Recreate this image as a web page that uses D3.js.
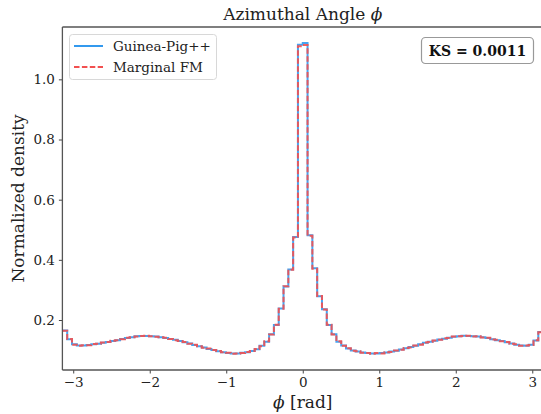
<!DOCTYPE html>
<html lang="en">
<head>
    <meta charset="UTF-8">
    <title>Azimuthal Angle</title>
    <script src="https://d3js.org/d3.v7.min.js"></script>
    <style>
        body { margin: 0; background: #fff; }
        svg { display: block; font-family: "DejaVu Serif", serif; }
        .tick text { font-size: 13.5px; fill: #222; font-family: "DejaVu Serif", serif; }
        .tick line { stroke: #444; }
        .domain { stroke: none; }
    </style>
</head>
<body>
<svg width="541" height="414"></svg>
<script>
    // histogram densities, 100 bins over [-pi, pi]
    const guineaPig = [
        0.165, 0.136, 0.119, 0.115, 0.115, 0.117, 0.119, 0.121, 0.124, 0.127,
        0.130, 0.133, 0.137, 0.140, 0.143, 0.146, 0.147, 0.147, 0.146, 0.145,
        0.143, 0.140, 0.137, 0.134, 0.130, 0.126, 0.122, 0.117, 0.113, 0.109,
        0.104, 0.100, 0.096, 0.093, 0.090, 0.089, 0.089, 0.091, 0.093, 0.097,
        0.103, 0.114, 0.128, 0.153, 0.183, 0.238, 0.311, 0.368, 0.476, 1.115,
        1.121, 0.482, 0.372, 0.279, 0.236, 0.183, 0.153, 0.128, 0.115, 0.105,
        0.099, 0.095, 0.092, 0.090, 0.089, 0.089, 0.090, 0.092, 0.095, 0.098,
        0.102, 0.106, 0.110, 0.114, 0.119, 0.124, 0.128, 0.131, 0.135, 0.138,
        0.141, 0.144, 0.146, 0.148, 0.147, 0.146, 0.145, 0.143, 0.140, 0.136,
        0.133, 0.130, 0.126, 0.122, 0.118, 0.115, 0.114, 0.118, 0.132, 0.160
    ];
    const marginalFM = [
        0.164, 0.137, 0.118, 0.114, 0.116, 0.116, 0.120, 0.121, 0.125, 0.127,
        0.131, 0.133, 0.136, 0.141, 0.143, 0.145, 0.147, 0.148, 0.146, 0.144,
        0.143, 0.141, 0.137, 0.133, 0.130, 0.127, 0.121, 0.118, 0.113, 0.108,
        0.105, 0.100, 0.097, 0.093, 0.091, 0.088, 0.089, 0.090, 0.094, 0.097,
        0.104, 0.113, 0.129, 0.152, 0.184, 0.237, 0.312, 0.367, 0.474, 1.110,
        1.114, 0.480, 0.370, 0.280, 0.235, 0.184, 0.152, 0.129, 0.114, 0.106,
        0.098, 0.096, 0.091, 0.090, 0.088, 0.090, 0.089, 0.093, 0.094, 0.099,
        0.101, 0.107, 0.109, 0.115, 0.118, 0.125, 0.127, 0.132, 0.134, 0.139,
        0.140, 0.145, 0.146, 0.147, 0.148, 0.145, 0.146, 0.142, 0.141, 0.135,
        0.134, 0.129, 0.127, 0.121, 0.119, 0.114, 0.115, 0.117, 0.133, 0.159
    ];
    const xTicks = [-3, -2, -1, 0, 1, 2, 3];
    const yTicks = [0.2, 0.4, 0.6, 0.8, 1.0];
    const seriesNames = ["Guinea-Pig++", "Marginal FM"];
    const ksText = "KS = 0.0011";

    const margin = { top: 27, left: 62.4, bottom: 44 };
    const svgW = 541, svgH = 414;
    const plotRight = 543.1;   // right spine falls just outside the picture
    const plotBottom = svgH - margin.bottom;
    const midX = (margin.left + plotRight) / 2;

    const blue = "#3399ee", red = "#f25050";

    const svg = d3.select("svg");

    const x = d3.scaleLinear().domain([-Math.PI, Math.PI]).range([margin.left, plotRight]);
    const y = d3.scaleLinear().domain([0.0338, 1.174]).range([plotBottom, margin.top]);

    const nBins = guineaPig.length;
    const edges = d3.range(nBins + 1).map(i => -Math.PI + i * 2 * Math.PI / nBins);

    svg.append("clipPath").attr("id", "clip")
        .append("rect")
        .attr("x", margin.left).attr("y", margin.top)
        .attr("width", plotRight - margin.left).attr("height", plotBottom - margin.top);

    const stairs = vals => {
        const pts = vals.map((v, i) => [edges[i], v]);
        pts.push([edges[nBins], vals[nBins - 1]]);
        return d3.line().x(d => x(d[0])).y(d => y(d[1])).curve(d3.curveStepAfter)(pts);
    };

    const plot = svg.append("g").attr("clip-path", "url(#clip)");
    plot.append("path")
        .attr("d", stairs(guineaPig))
        .attr("fill", "none")
        .attr("stroke", blue)
        .attr("stroke-width", 2)
        .attr("opacity", 0.9);
    plot.append("path")
        .attr("d", stairs(marginalFM))
        .attr("fill", "none")
        .attr("stroke", red)
        .attr("stroke-width", 2)
        .attr("stroke-dasharray", "5.5,2.4")
        .attr("opacity", 0.9);

    // axes
    svg.append("g")
        .attr("transform", `translate(0,${plotBottom})`)
        .call(d3.axisBottom(x).tickValues(xTicks).tickSize(3.5).tickPadding(4)
            .tickFormat(d => d < 0 ? "\u2212" + Math.abs(d) : d));
    svg.append("g")
        .attr("transform", `translate(${margin.left},0)`)
        .call(d3.axisLeft(y).tickValues(yTicks).tickSize(3.5).tickPadding(4)
            .tickFormat(d3.format(".1f")));

    // spines
    const spine = "#555";
    svg.append("line").attr("x1", margin.left).attr("x2", margin.left)
        .attr("y1", margin.top).attr("y2", plotBottom).attr("stroke", spine).attr("stroke-width", 1.3);
    svg.append("line").attr("x1", margin.left).attr("x2", plotRight)
        .attr("y1", plotBottom).attr("y2", plotBottom).attr("stroke", spine).attr("stroke-width", 1.3);
    svg.append("line").attr("x1", margin.left).attr("x2", plotRight)
        .attr("y1", margin.top).attr("y2", margin.top).attr("stroke", spine).attr("stroke-width", 1.3);

    // title and labels
    const title = svg.append("text")
        .attr("x", midX).attr("y", 20)
        .attr("text-anchor", "middle")
        .style("font-size", "17px").attr("fill", "#222");
    title.append("tspan").text("Azimuthal Angle ");
    title.append("tspan").style("font-style", "italic").text("\u03D5");

    const xl = svg.append("text")
        .attr("x", midX).attr("y", 408)
        .attr("text-anchor", "middle")
        .style("font-size", "17px").attr("fill", "#222");
    xl.append("tspan").style("font-style", "italic").text("\u03D5");
    xl.append("tspan").text(" [rad]");

    svg.append("text")
        .attr("transform", `translate(24,${(margin.top + plotBottom) / 2}) rotate(-90)`)
        .attr("text-anchor", "middle")
        .style("font-size", "17px").attr("fill", "#222")
        .text("Normalized density");

    // legend
    const legend = svg.append("g");
    legend.append("rect")
        .attr("x", 69.5).attr("y", 34.5).attr("width", 147).attr("height", 45)
        .attr("rx", 3).attr("fill", "#fff").attr("fill-opacity", 0.8)
        .attr("stroke", "#d8d8d8");
    const legStyles = [
        { color: blue, dash: null },
        { color: red, dash: "5.5,2.4" }
    ];
    seriesNames.forEach((name, i) => {
        const ly = 46 + i * 21;
        legend.append("line")
            .attr("x1", 74).attr("x2", 103).attr("y1", ly).attr("y2", ly)
            .attr("stroke", legStyles[i].color).attr("stroke-width", 2)
            .attr("stroke-dasharray", legStyles[i].dash);
        legend.append("text")
            .attr("x", 113).attr("y", ly + 4.5)
            .style("font-size", "13.5px").attr("fill", "#222")
            .text(name);
    });

    // KS box
    svg.append("rect")
        .attr("x", 421.5).attr("y", 37.5).attr("width", 112).attr("height", 26)
        .attr("rx", 4).attr("fill", "#fff").attr("stroke", "#999").attr("stroke-width", 1.2);
    svg.append("text")
        .attr("x", 477.5).attr("y", 55.5)
        .attr("text-anchor", "middle")
        .style("font-size", "14px").style("font-weight", "bold").attr("fill", "#111")
        .text(ksText);
</script>
</body>
</html>
